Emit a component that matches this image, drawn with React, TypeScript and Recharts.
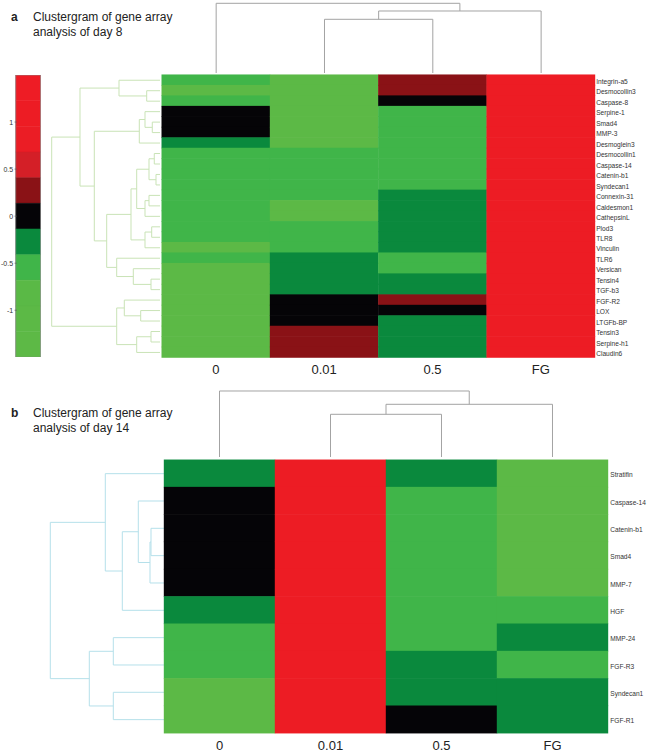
import React from 'react';
import { BarChart, Bar, XAxis, YAxis, Cell, ScatterChart, Scatter, ReferenceArea } from 'recharts';

const FONT = '"Liberation Sans", Arial, Helvetica, sans-serif';

// ---------- shared ----------
const conditions = ['0', '0.01', '0.5', 'FG'];

// colour scale (colorbar of panel a), top to bottom
const colorbarEdges = [1.5, 1.227, 0.955, 0.682, 0.409, 0.136, -0.136, -0.409, -0.682, -0.955, -1.227, -1.5];
const colorbarColors = ['#EE1C25', '#ED1C24', '#EB1D25', '#D41F27', '#8A1216', '#050407', '#0A893D', '#40B549', '#5AB946', '#5CB946', '#5DB946'];
const colorbarTicks = [-1, -0.5, 0, 0.5, 1];

// ---------- panel a : day 8 ----------
const genesDay8 = ['Integrin-a5', 'Desmocollin3', 'Caspase-8', 'Serpine-1', 'Smad4', 'MMP-3', 'Desmoglein3', 'Desmocollin1', 'Caspase-14', 'Catenin-b1', 'Syndecan1', 'Connexin-31', 'Caldesmon1', 'CathepsinL', 'Plod3', 'TLR8', 'Vinculin', 'TLR6', 'Versican', 'Tensin4', 'TGF-b3', 'FGF-R2', 'LOX', 'LTGFb-BP', 'Tensin3', 'Serpine-h1', 'Claudin6'];
const day8_0 = [-0.55, -1.1, -0.55, 0, 0, 0, -0.27, -0.55, -0.55, -0.55, -0.55, -0.55, -0.55, -0.55, -0.55, -0.55, -1.1, -0.55, -1.1, -1.1, -1.1, -1.1, -1.1, -1.1, -1.1, -1.1, -1.1];
const day8_001 = [-1.1, -1.1, -1.1, -1.1, -1.1, -1.1, -1.1, -0.55, -0.55, -0.55, -0.55, -0.55, -1.1, -1.1, -0.55, -0.55, -0.55, -0.27, -0.27, -0.27, -0.27, 0, 0, 0, 0.27, 0.27, 0.27];
const day8_05 = [0.27, 0.27, 0, -0.55, -0.55, -0.55, -0.55, -0.55, -0.55, -0.55, -0.55, -0.27, -0.27, -0.27, -0.27, -0.27, -0.27, -0.55, -0.55, -0.27, -0.27, 0.27, 0, -0.27, -0.27, -0.27, -0.27];
const day8_FG = [1.2, 1.2, 1.2, 1.2, 1.2, 1.2, 1.2, 1.2, 1.2, 1.2, 1.2, 1.2, 1.2, 1.2, 1.2, 1.2, 1.2, 1.2, 1.2, 1.2, 1.2, 1.2, 1.2, 1.2, 1.2, 1.2, 1.2];

// row linkage [childA, childB, distance]; new clusters numbered from 27
const rowLinkDay8: [number, number, number][] = [
  [1, 2, 13.3], [0, 27, 41], [4, 5, 7.7], [3, 29, 15], [30, 6, 20.7],
  [7, 8, 5.7], [9, 10, 4], [32, 33, 11], [11, 12, 11], [35, 13, 15],
  [34, 36, 23.3], [14, 15, 8.3], [38, 16, 15], [37, 39, 29], [19, 20, 9],
  [18, 41, 26.7], [17, 42, 43.3], [40, 43, 53.3], [31, 44, 65.7], [28, 45, 80],
  [22, 23, 19.3], [21, 47, 35.7], [24, 25, 9], [49, 26, 23.3], [48, 50, 43.3],
  [46, 51, 108.3],
];
const colLinkDay8: [number, number, number][] = [[1, 2, 54], [4, 3, 62.3], [0, 5, 70]];

// ---------- panel b : day 14 ----------
const genesDay14 = ['Stratifin', 'Caspase-14', 'Catenin-b1', 'Smad4', 'MMP-7', 'HGF', 'MMP-24', 'FGF-R3', 'Syndecan1', 'FGF-R1'];
const day14_0 = [-0.27, 0, 0, 0, 0, -0.27, -0.55, -0.55, -1.1, -1.1];
const day14_001 = [1.2, 1.2, 1.2, 1.2, 1.2, 1.2, 1.2, 1.2, 1.2, 1.2];
const day14_05 = [-0.27, -0.55, -0.55, -0.55, -0.55, -0.55, -0.55, -0.27, -0.27, 0];
const day14_FG = [-1.1, -1.1, -1.1, -1.1, -1.1, -0.55, -0.27, -0.55, -0.27, -0.27];

const rowLinkDay14: [number, number, number][] = [
  [2, 3, 13], [10, 4, 14], [1, 11, 25.7], [12, 5, 41.7], [0, 13, 58.7],
  [6, 7, 50.7], [8, 9, 50.7], [15, 16, 74.7], [14, 17, 113.7],
];
const colLinkDay14: [number, number, number][] = [[1, 2, 43], [4, 3, 53], [0, 5, 66.3]];

// ---------- helpers ----------
function colorFor(v: number): string {
  for (let i = 0; i < colorbarColors.length; i++) {
    if (v <= colorbarEdges[i] && v >= colorbarEdges[i + 1]) return colorbarColors[i];
  }
  return v > 0 ? colorbarColors[0] : colorbarColors[colorbarColors.length - 1];
}

const NoShape = () => <g />;

type DendroProps = {
  merges: [number, number, number][];
  nLeaves: number;
  side: 'left' | 'top';
  left: number;
  top: number;
  width: number;
  height: number;
  hMax: number;
  color: string;
};

function Dendro({ merges, nLeaves, side, left, top, width, height, hMax, color }: DendroProps) {
  const pos: number[] = [];
  const hgt: number[] = [];
  for (let i = 0; i < nLeaves; i++) {
    pos[i] = i;
    hgt[i] = 0;
  }
  const links = merges.map(([a, b, h], k) => {
    const id = nLeaves + k;
    pos[id] = (pos[a] + pos[b]) / 2;
    hgt[id] = h;
    return side === 'left'
      ? [
          { x: hgt[a], y: pos[a] },
          { x: h, y: pos[a] },
          { x: h, y: pos[b] },
          { x: hgt[b], y: pos[b] },
        ]
      : [
          { x: pos[a], y: hgt[a] },
          { x: pos[a], y: h },
          { x: pos[b], y: h },
          { x: pos[b], y: hgt[b] },
        ];
  });
  return (
    <div style={{ position: 'absolute', left, top }}>
      <ScatterChart width={width} height={height} margin={{ top: 0, right: 0, bottom: 0, left: 0 }}>
        <XAxis
          type="number"
          dataKey="x"
          hide
          domain={side === 'left' ? [0, hMax] : [-0.5, nLeaves - 0.5]}
          reversed={side === 'left'}
        />
        <YAxis
          type="number"
          dataKey="y"
          hide
          domain={side === 'left' ? [-0.5, nLeaves - 0.5] : [0, hMax]}
          reversed={side === 'left'}
        />
        {links.map((pts, k) => (
          <Scatter
            key={k}
            data={pts}
            fill={color}
            line={{ stroke: color, strokeWidth: 1 }}
            lineType="joint"
            shape={NoShape}
            isAnimationActive={false}
          />
        ))}
      </ScatterChart>
    </div>
  );
}

type HeatProps = {
  genes: string[];
  columns: number[][];
  x0: number;
  x1: number;
  y0: number;
  y1: number;
  chartTop: number;
  chartHeight: number;
  rowFont: number;
  labelGap: number;
  colLabelDy: number;
};

function Heatmap({ genes, columns, x0, x1, y0, y1, chartTop, chartHeight, rowFont, labelGap, colLabelDy }: HeatProps) {
  const rows = genes.map((g) => ({ gene: g, w0: 1, w1: 1, w2: 1, w3: 1 }));
  const yW = 648 - x1 - 0.5;
  const xH = chartTop + chartHeight - y1;
  const rowH = (y1 - y0) / genes.length;
  const CellShape = (p: any) => {
    const cy = p.y + p.height / 2;
    return (
      <rect
        x={p.x - 0.2}
        y={cy - rowH / 2 - 0.3}
        width={p.width + 0.4}
        height={rowH + 0.6}
        fill={p.fill}
        stroke="none"
      />
    );
  };
  const RowTick = (p: any) => (
    <text
      x={x1 + labelGap}
      y={p.y + 1.2}
      textAnchor="start"
      dominantBaseline="central"
      fontSize={rowFont}
      fontFamily={FONT}
      fill="#333"
    >
      {p.payload.value}
    </text>
  );
  const ColTick = (p: any) => (
    <text
      x={p.x}
      y={p.y + colLabelDy}
      textAnchor="middle"
      dominantBaseline="central"
      fontSize={13}
      fontFamily={FONT}
      fill="#222"
    >
      {conditions[Math.floor(p.payload.value)]}
    </text>
  );
  return (
    <div style={{ position: 'absolute', left: 0, top: chartTop }}>
      <BarChart
        layout="vertical"
        width={648}
        height={chartHeight}
        data={rows}
        barCategoryGap={0}
        barGap={0}
        margin={{ top: y0 - chartTop, left: x0, right: 0.5, bottom: 0 }}
      >
        <XAxis
          type="number"
          domain={[0, 4]}
          ticks={[0.5, 1.5, 2.5, 3.5]}
          axisLine={false}
          tickLine={false}
          tickSize={0}
          tickMargin={0}
          height={xH}
          interval={0}
          tick={ColTick}
        />
        <YAxis
          type="category"
          dataKey="gene"
          orientation="right"
          width={yW}
          interval={0}
          axisLine={false}
          tickLine={false}
          tickSize={0}
          tickMargin={0}
          tick={RowTick}
        />
        {columns.map((col, c) => (
          <Bar key={c} dataKey={`w${c}`} stackId="h" shape={CellShape} isAnimationActive={false}>
            {col.map((v, i) => (
              <Cell key={i} fill={colorFor(v)} />
            ))}
          </Bar>
        ))}
      </BarChart>
    </div>
  );
}

function Colorbar() {
  const CbTick = (p: any) => (
    <g>
      <line x1={p.x - 1.2} x2={p.x + 1.2} y1={p.y} y2={p.y} stroke="#555" strokeWidth={0.6} />
      <text
        x={p.x - 2.6}
        y={p.y}
        textAnchor="end"
        dominantBaseline="central"
        fontSize={7}
        fontFamily={FONT}
        fill="#333"
      >
        {p.payload.value}
      </text>
    </g>
  );
  return (
    <div style={{ position: 'absolute', left: 0, top: 75 }}>
      <ScatterChart width={41} height={282.3} margin={{ top: 0, right: 0.3, bottom: 0, left: 0 }}>
        <XAxis type="number" dataKey="x" hide domain={[0, 1]} />
        <YAxis
          type="number"
          dataKey="y"
          domain={[-1.5, 1.5]}
          ticks={colorbarTicks}
          width={15.7}
          interval={0}
          axisLine={false}
          tickLine={false}
          tickSize={0}
          tickMargin={0}
          tick={CbTick}
        />
        {colorbarColors.map((c, i) => (
          <ReferenceArea
            key={i}
            x1={0}
            x2={1}
            y1={colorbarEdges[i + 1]}
            y2={colorbarEdges[i]}
            fill={c}
            fillOpacity={1}
            stroke={c}
            strokeWidth={0.5}
          />
        ))}
        <ReferenceArea x1={0} x2={1} y1={-1.5} y2={1.5} fill="none" fillOpacity={0} stroke="#8C8C8C" strokeWidth={0.8} />
        <Scatter data={colorbarTicks.map((t) => ({ x: 0.5, y: t }))} shape={NoShape} isAnimationActive={false} />
      </ScatterChart>
    </div>
  );
}

function Title({ letter, line1, line2, y }: { letter: string; line1: string; line2: string; y: number }) {
  const common: React.CSSProperties = {
    position: 'absolute',
    fontFamily: FONT,
    fontSize: 12,
    lineHeight: '15px',
    color: '#222',
    whiteSpace: 'nowrap',
  };
  return (
    <>
      <div style={{ ...common, left: 11, top: y - 7.5, fontWeight: 'bold' }}>{letter}</div>
      <div style={{ ...common, left: 33, top: y - 7.5 }}>{line1}</div>
      <div style={{ ...common, left: 33, top: y + 8 }}>{line2}</div>
    </>
  );
}

export default function App() {
  return (
    <div style={{ position: 'absolute', left: 0, top: 0, width: 648, height: 752, background: '#fff', overflow: 'hidden' }}>
      <Title letter="a" line1="Clustergram of gene array" line2="analysis of day 8" y={17} />
      <Title letter="b" line1="Clustergram of gene array" line2="analysis of day 14" y={413} />

      {/* panel a */}
      <Dendro merges={colLinkDay8} nLeaves={4} side="top" left={161.7} top={0} width={433.3} height={73.3} hMax={73.3} color="#A3A3A3" />
      <Dendro merges={rowLinkDay8} nLeaves={27} side="left" left={0} top={75} width={160} height={282.7} hMax={160} color="#C9E3B6" />
      <Colorbar />
      <Heatmap
        genes={genesDay8}
        columns={[day8_0, day8_001, day8_05, day8_FG]}
        x0={161.7}
        x1={595}
        y0={75}
        y1={357.7}
        chartTop={0}
        chartHeight={382}
        rowFont={6.6}
        labelGap={1.2}
        colLabelDy={11.8}
      />

      {/* panel b */}
      <Dendro merges={colLinkDay14} nLeaves={4} side="top" left={164} top={380} width={444} height={77.3} hMax={77.3} color="#A3A3A3" />
      <Dendro merges={rowLinkDay14} nLeaves={10} side="left" left={0} top={460} width={164} height={273.3} hMax={164} color="#B5E0EA" />
      <Heatmap
        genes={genesDay14}
        columns={[day14_0, day14_001, day14_05, day14_FG]}
        x0={164}
        x1={608}
        y0={460}
        y1={733.3}
        chartTop={380}
        chartHeight={372}
        rowFont={6.6}
        labelGap={2.3}
        colLabelDy={11.7}
      />
    </div>
  );
}
